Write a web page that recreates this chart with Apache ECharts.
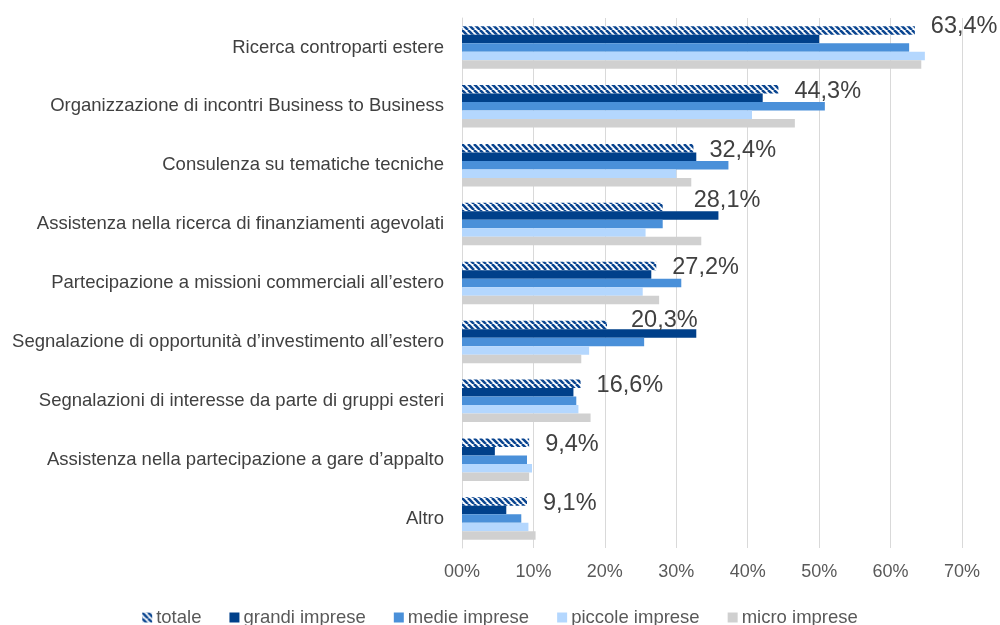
<!DOCTYPE html>
<html>
<head>
<meta charset="utf-8">
<script src="https://cdn.jsdelivr.net/npm/echarts@6/dist/echarts.min.js"></script>
<style>
  html, body { margin: 0; padding: 0; background: #ffffff; }
  #chart { width: 1000px; height: 625px; }
</style>
</head>
<body>
<div id="chart"></div>
<script>
// Servizi richiesti per l'internazionalizzazione (% di imprese)
const categories = [
  'Ricerca controparti estere',
  'Organizzazione di incontri Business to Business',
  'Consulenza su tematiche tecniche',
  'Assistenza nella ricerca di finanziamenti agevolati',
  'Partecipazione a missioni commerciali all\u2019estero',
  'Segnalazione di opportunit\u00e0 d\u2019investimento all\u2019estero',
  'Segnalazioni di interesse da parte di gruppi esteri',
  'Assistenza nella partecipazione a gare d\u2019appalto',
  'Altro'
];
const totale         = [63.4, 44.3, 32.4, 28.1, 27.2, 20.3, 16.6, 9.4, 9.1];
const grandiImprese  = [50.0, 42.1, 32.8, 35.9, 26.5, 32.8, 15.6, 4.6, 6.2];
const medieImprese   = [62.6, 50.8, 37.3, 28.1, 30.7, 25.5, 16.0, 9.1, 8.3];
const piccoleImprese = [64.8, 40.6, 30.0, 25.7, 25.3, 17.8, 16.3, 9.8, 9.3];
const microImprese   = [64.3, 46.6, 32.1, 33.5, 27.6, 16.7, 18.0, 9.4, 10.3];
const seriesNames = ['totale', 'grandi imprese', 'medie imprese', 'piccole imprese', 'micro imprese'];
const xTickLabels = ['00%', '10%', '20%', '30%', '40%', '50%', '60%', '70%'];

// Diagonal navy hatch used for the "totale" bars
function hatchPattern() {
  const size = 6;
  const c = document.createElement('canvas');
  c.width = size; c.height = size;
  const ctx = c.getContext('2d');
  ctx.fillStyle = '#ffffff';
  ctx.fillRect(0, 0, size, size);
  ctx.strokeStyle = '#0a4590';
  ctx.lineWidth = 2.6;
  for (let k = -size; k <= size; k += size) {
    ctx.beginPath();
    ctx.moveTo(k, 0);
    ctx.lineTo(k + size, size);
    ctx.stroke();
  }
  return { image: c, repeat: 'repeat' };
}

// Hand-placed nudges for a few "totale" labels that would otherwise crowd the bars below
function labelNudge(i) {
  if (i === 0) return [0, -4];
  if (i === 3) return [15, -7];
  if (i === 5) return [8, -4];
  return [0, 2];
}

const FONT = '"Liberation Sans", Arial, sans-serif';
const colors = [hatchPattern(), '#00408a', '#4a90d9', '#b4d7fe', '#d0d0d0'];
const dataSets = [totale, grandiImprese, medieImprese, piccoleImprese, microImprese];

const chart = echarts.init(document.getElementById('chart'), null, { renderer: 'canvas' });

const series = dataSets.map((d, i) => ({
  name: seriesNames[i],
  type: 'bar',
  data: i === 0 ? d.map((v, j) => ({ value: v, label: { offset: labelNudge(j) } })) : d,
  barWidth: 8.5,
  barGap: '0%',
  itemStyle: { color: colors[i] },
  silent: true,
  label: i === 0 ? {
    show: true,
    position: 'right',
    distance: 16,
    fontFamily: FONT,
    fontSize: 23.5,
    color: '#404040',
    formatter: p => p.value.toFixed(1).replace('.', ',') + '%'
  } : { show: false }
}));

chart.setOption({
  animation: false,
  backgroundColor: '#ffffff',
  grid: { left: 462, right: 38, top: 18, bottom: 77, containLabel: false },
  xAxis: {
    type: 'value',
    min: 0,
    max: 70,
    interval: 10,
    axisLine: { show: false },
    axisTick: { show: false },
    splitLine: { show: true, lineStyle: { color: '#d9d9d9', width: 1 } },
    axisLabel: {
      margin: 15,
      fontFamily: FONT,
      fontSize: 18,
      color: '#595959',
      formatter: v => xTickLabels[Math.round(v / 10)]
    }
  },
  yAxis: {
    type: 'category',
    data: categories,
    inverse: true,
    axisLine: { show: true, lineStyle: { color: '#d9d9d9' } },
    axisTick: { show: false },
    axisLabel: {
      margin: 18,
      fontFamily: FONT,
      fontSize: 18.5,
      color: '#404040'
    }
  },
  legend: {
    top: 603,
    left: 'center',
    itemWidth: 10,
    itemHeight: 10,
    itemGap: 28,
    icon: 'rect',
    textStyle: { fontFamily: FONT, fontSize: 18.5, color: '#595959', padding: [0, 0, 0, -1] },
    data: seriesNames
  },
  series: series
});
</script>
</body>
</html>
